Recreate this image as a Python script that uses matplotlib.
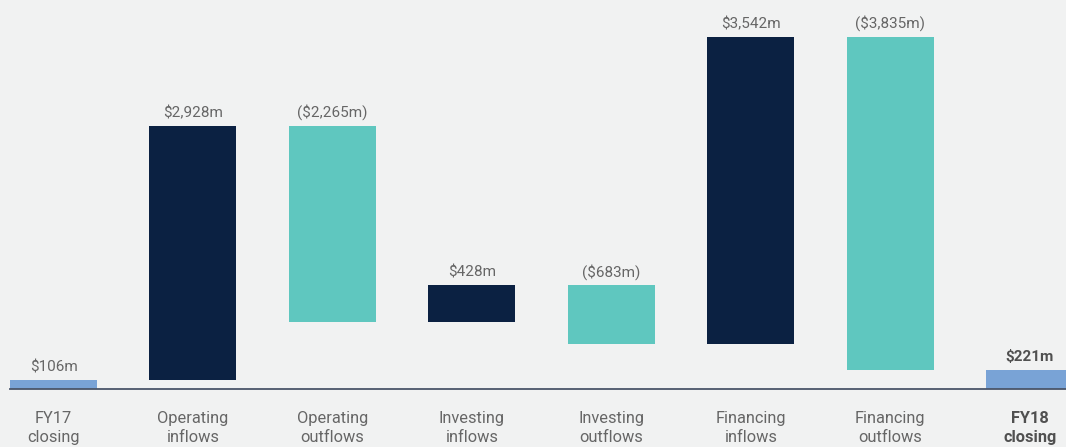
import matplotlib.pyplot as plt
import numpy as np

plt.rcParams['font.family'] = ['Roboto', 'DejaVu Sans']

categories = ["FY17\nclosing", "Operating\ninflows", "Operating\noutflows", "Investing\ninflows",
              "Investing\noutflows", "Financing\ninflows", "Financing\noutflows", "FY18\nclosing"]
changes = [106, 2928, -2265, 428, -683, 3542, -3835, 221]
kinds = ["total", "in", "out", "in", "out", "in", "out", "total"]
value_labels = ["$106m", "$2,928m", "($2,265m)", "$428m", "($683m)", "$3,542m", "($3,835m)", "$221m"]

colors = {"total": "#79a3d6", "in": "#0b2142", "out": "#5fc7bf"}
bg = "#f1f2f2"
text_col = "#666666"

# waterfall: running level
bottoms, heights = [], []
level = 0
for v, k in zip(changes, kinds):
    if k == "total":
        bottoms.append(0)
        heights.append(v)
        level = v
    else:
        new = level + v
        bottoms.append(min(level, new))
        heights.append(abs(v))
        level = new

fig = plt.figure(figsize=(10.66, 4.47), dpi=100, facecolor=bg)
ax = fig.add_axes([10 / 1066, 58 / 447, 1056 / 1066, 389 / 447])
ax.set_facecolor(bg)

x = np.arange(len(categories))
ax.bar(x, heights, bottom=bottoms, width=0.624,
       color=[colors[k] for k in kinds], zorder=2)

for i in range(len(x)):
    bold = i == len(x) - 1
    ax.annotate(value_labels[i], (x[i], bottoms[i] + heights[i]),
                xytext=(0, 4), textcoords="offset points", ha="center", va="bottom",
                fontsize=11, color="#505050" if bold else text_col,
                fontweight="bold" if bold else "normal")

ax.set_xlim(-0.312, 7.26)
ax.set_ylim(0, 4480)
ax.set_xticks(x)
ax.set_xticklabels(categories, fontsize=11.8, color=text_col, linespacing=1.35)
lab = ax.get_xticklabels()[-1]
lab.set_fontweight("bold")
lab.set_color("#505050")
ax.tick_params(axis="x", length=0, pad=16)
ax.set_yticks([])

for s in ["top", "right", "left"]:
    ax.spines[s].set_visible(False)
ax.spines["bottom"].set_color("#4a5569")
ax.spines["bottom"].set_linewidth(1.3)
ax.spines["bottom"].set_zorder(3)

fig.savefig("out.png", dpi=100, facecolor=bg)
